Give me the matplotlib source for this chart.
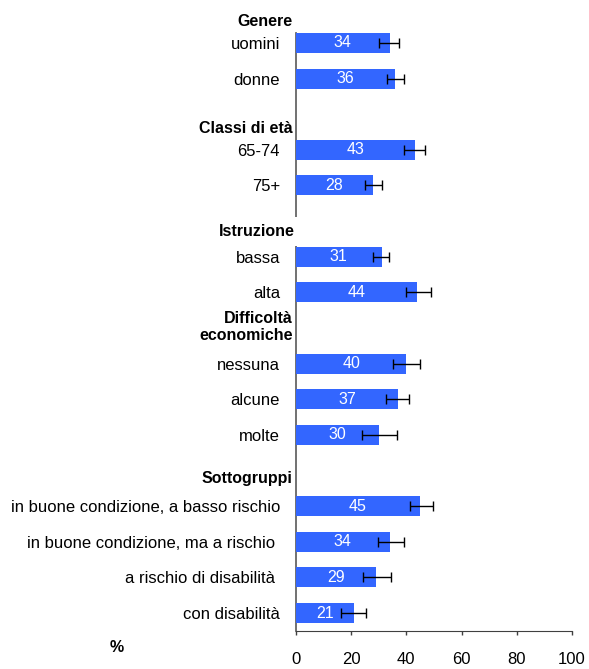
import numpy as np
import matplotlib
matplotlib.use('Agg')
from matplotlib import pyplot as plt

plt.rcParams['font.family'] = ['Liberation Sans', 'DejaVu Sans']

# categories (blank rows separate the groups)
labels = ['uomini', 'donne', '', '65-74', '75+', '', 'bassa', 'alta', '',
          'nessuna', 'alcune', 'molte', '',
          'in buone condizione, a basso rischio',
          'in buone condizione, ma a rischio ',
          'a rischio di disabilità ',
          'con disabilità']
values = [34, 36, None, 43, 28, None, 31, 44, None,
          40, 37, 30, None, 45, 34, 29, 21]
ci_low = [30, 33, None, 39, 25, None, 28, 40, None,
          35.3, 32.6, 24, None, 41.4, 29.7, 24.3, 16.2]
ci_high = [37.5, 39, None, 46.7, 31, None, 33.6, 49, None,
           44.9, 40.9, 36.5, None, 49.6, 39.3, 34.5, 25.4]

# group headers and the row they sit near
headers = ['Genere', 'Classi di età', 'Istruzione', 'Difficoltà\neconomiche', 'Sottogruppi']
header_rows = [-0.6, 2.4, 5.29, 7.97, 12.22]

xticks = [0, 20, 40, 60, 80, 100]

BLUE = '#3366FF'
FS = 12

fig = plt.figure(figsize=(5.89, 6.69), dpi=100)
ax = fig.add_axes([0.5025, 0.0568, 0.4685, 0.8939])

rows = np.arange(len(labels))
vals = np.array([np.nan if v is None else v for v in values], dtype=float)
lo = np.array([np.nan if v is None else v for v in ci_low], dtype=float)
hi = np.array([np.nan if v is None else v for v in ci_high], dtype=float)
mask = ~np.isnan(vals)

ax.barh(rows[mask], vals[mask], height=0.56, color=BLUE, zorder=2)
ax.errorbar(vals[mask], rows[mask],
            xerr=[vals[mask] - lo[mask], hi[mask] - vals[mask]],
            fmt='none', ecolor='black', elinewidth=1, capsize=3.5, capthick=1, zorder=3)

for r, v in zip(rows[mask], vals[mask]):
    ax.text(v / 2, r, '%d' % v, color='white', ha='center', va='center', fontsize=11.5, zorder=4)

ax.set_xlim(0, 100)
ax.set_ylim(16.505, -0.28)
ax.set_yticks(rows)
ax.set_yticklabels(labels, fontsize=FS)
ax.tick_params(axis='y', length=0, pad=11.5)
ax.set_xticks(xticks)
ax.set_xticklabels([str(t) for t in xticks], fontsize=FS)
ax.tick_params(axis='x', direction='out', length=3, width=1, color='#404040', pad=12)

for side in ['top', 'right']:
    ax.spines[side].set_visible(False)
ax.spines['left'].set_color('#666666')
ax.spines['left'].set_linewidth(1.3)
ax.spines['bottom'].set_color('#404040')
ax.spines['left'].set_zorder(1)

for h, r in zip(headers, header_rows):
    box = None
    xoff = -1.3
    if h == 'Istruzione':
        box = dict(facecolor='white', edgecolor='none', pad=5)
        xoff = -0.4
    ax.text(xoff, r, h, ha='right', va='center', fontsize=11.5, fontweight='bold',
            transform=ax.transData, clip_on=False, bbox=box, zorder=5,
            linespacing=1.2)

fig.text(117 / 589, 1 - 647 / 669, '%', ha='center', va='center', fontsize=11.5, fontweight='bold')

fig.savefig('out.png', dpi=100)
